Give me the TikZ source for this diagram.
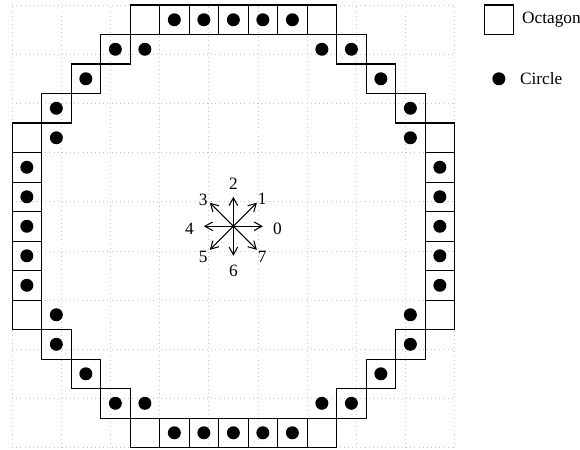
\documentclass[tikz,border=0pt]{standalone}
\usepackage{fontspec}
\setmainfont{Liberation Serif}
\usetikzlibrary{arrows.meta, positioning, calc}

\begin{document}
\begin{tikzpicture}[x=6mm, y=6mm,
  every node/.style={font=\normalsize},
  g/.style={gray!45, dotted, line width=0.4pt},
  sq/.style={draw, line width=0.6pt},
  dt/.style={fill=black},
  a/.style={-{Straight Barb[length=4.5pt, width=5pt]}, line width=0.6pt}]
\useasboundingbox (-0.41,-0.06) rectangle (19.25,15.17);
\draw[g] (0,0) grid (15,15);
% octagon cells (row r counted from the top)
\foreach \c in {4,...,10}
  \foreach \r in {0,14}
    \draw[sq] (\c,14-\r) rectangle ++(1,1);
\foreach \c/\r in {3/1,11/1,2/2,12/2,1/3,13/3,1/11,13/11,2/12,12/12,3/13,11/13}
  \draw[sq] (\c,14-\r) rectangle ++(1,1);
\foreach \r in {4,...,10}
  \foreach \c in {0,14}
    \draw[sq] (\c,14-\r) rectangle ++(1,1);
% circle cells
\foreach \c in {5,...,9}
  \foreach \r in {0,14}
    \fill[dt] (\c+0.5,14.5-\r) circle (0.22);
\foreach \c/\r in {3/1,4/1,10/1,11/1,2/2,12/2,2/12,12/12,3/13,4/13,10/13,11/13}
  \fill[dt] (\c+0.5,14.5-\r) circle (0.22);
\foreach \r in {3,4,10,11}
  \foreach \c in {1,13}
    \fill[dt] (\c+0.5,14.5-\r) circle (0.22);
\foreach \r in {5,...,9}
  \foreach \c in {0,14}
    \fill[dt] (\c+0.5,14.5-\r) circle (0.22);
% directions
\coordinate (o) at (7.5,7.5);
\foreach \k/\x/\y/\lx/\ly in {0/1/0/1.49/-0.08, 1/0.8/0.8/0.98/0.92, 2/0/1/0/1.45,
    3/-0.8/0.8/-1.02/0.88, 4/-1/0/-1.49/-0.08, 5/-0.8/-0.8/-1.02/-1.05,
    6/0/-1/0/-1.52, 7/0.8/-0.8/0.98/-1.05} {
  \coordinate (t\k) at ($(o)+(\x,\y)$);
  \draw[a] (o) -- (t\k);
  \node[inner sep=0pt] (l\k) at ($(o)+(\lx,\ly)$) {\k};
}
% key
\node[sq, minimum size=6mm, inner sep=0pt] (octkey) at (16.5,14.5) {};
\node[right=1.2mm of octkey, inner sep=1pt] (octtext) {Octagon};
\fill[dt] (16.5,12.5) circle (0.22) coordinate (circkey);
\node[right=3.9mm of circkey, inner sep=1pt] (circtext) {Circle};
\end{tikzpicture}
\end{document}
